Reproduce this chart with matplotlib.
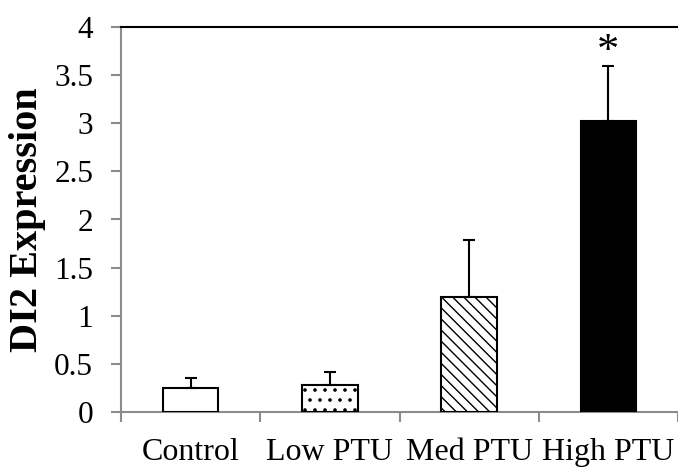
import matplotlib
matplotlib.use("Agg")
import matplotlib.pyplot as plt
import matplotlib.hatch as mhatch
import numpy as np

categories = ["Control", "Low PTU", "Med PTU", "High PTU"]
values = [0.25, 0.28, 1.20, 3.02]
errors = [0.10, 0.14, 0.59, 0.57]
ytick_vals = [0, 0.5, 1, 1.5, 2, 2.5, 3, 3.5, 4]
ytick_labels = ["0", "0.5", "1", "1.5", "2", "2.5", "3", "3.5", "4"]
significant = [False, False, False, True]

facecolors = ["white", "white", "white", "black"]
hatches = [None, ".", "\\\\\\", None]


# sparser, small dot hatch like the reference (even row count required)
def _dots_init(self, hatch, density):
    self.num_rows = 10 * hatch.count('.')
    mhatch.Circles.__init__(self, hatch, density)


mhatch.SmallFilledCircles.__init__ = _dots_init
mhatch.SmallFilledCircles.size = 0.11

plt.rcParams["font.family"] = ["Liberation Serif", "DejaVu Serif"]
plt.rcParams["hatch.linewidth"] = 1.0
plt.rcParams["hatch.color"] = "black"

fig = plt.figure(figsize=(6.78, 4.69), dpi=100)
ax = fig.add_axes([121/678, 57/469, 1 - 121/678, (412-27)/469])

x = np.arange(len(categories))
bars = ax.bar(x, values, width=0.4, color=facecolors, edgecolor="black",
              linewidth=1.5, zorder=3)
for b, h in zip(bars, hatches):
    if h:
        b.set_hatch(h)

ax.errorbar(x, values, yerr=[np.zeros(len(errors)), errors], fmt="none",
            ecolor="black", elinewidth=1.5, capsize=4.5, capthick=1.5, zorder=4)

for xi, v, e, s in zip(x, values, errors, significant):
    if s:
        ax.annotate("*", xy=(xi, v + e), xytext=(0, -4), textcoords="offset points",
                    ha="center", va="bottom", fontsize=32)

ax.set_xlim(-0.5, len(categories) - 0.5)
ax.set_ylim(0, 4)
ax.set_yticks(ytick_vals)
ax.set_yticklabels(ytick_labels)
ax.set_xticks(x)
ax.set_xticklabels(categories)
ax.set_xticks(np.arange(len(categories) + 1) - 0.5, minor=True)

gray = "#8c8c8c"
ax.tick_params(axis="y", direction="out", length=7, width=1.5, color=gray,
               labelsize=22.5, pad=13)
ax.tick_params(axis="x", which="major", length=0, labelsize=23, pad=19)
ax.tick_params(axis="x", which="minor", direction="out", length=7, width=1.5, color=gray)

for side in ["left", "bottom"]:
    ax.spines[side].set_color(gray)
    ax.spines[side].set_linewidth(1.5)
ax.spines["right"].set_visible(False)
ax.spines["top"].set_color("black")
ax.spines["top"].set_linewidth(1.5)

ax.set_ylabel("DI2 Expression", fontsize=29, fontweight="bold", labelpad=6)

fig.savefig("out.png", dpi=100)
